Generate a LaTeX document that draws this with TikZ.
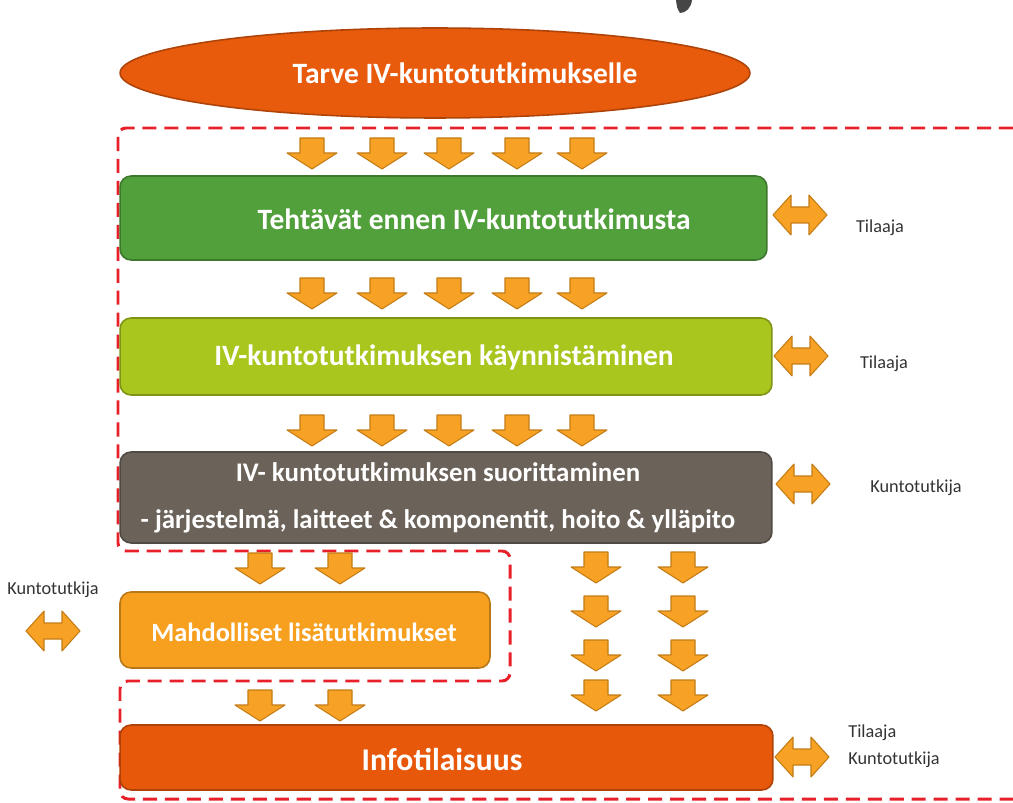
\documentclass[tikz,border=0pt]{standalone}
\usepackage{fontspec}
\setmainfont{Carlito}
\usetikzlibrary{shapes.geometric}
\definecolor{arrfill}{HTML}{F7A224}
\definecolor{arredge}{HTML}{C47C16}
\definecolor{needc}{HTML}{E85A0C}
\definecolor{greenc}{HTML}{52A03C}
\definecolor{limec}{HTML}{A8C61E}
\definecolor{grayc}{HTML}{6B625A}
\definecolor{orangec}{HTML}{F7A020}
\definecolor{infoc}{HTML}{E8580A}
\definecolor{dashc}{HTML}{E8202A}
\definecolor{labelc}{HTML}{333333}
\begin{document}
\begin{tikzpicture}[x=0.02cm,y=-0.02cm,
  stagebox/.style={draw=#1!75!black, line width=0.9pt, fill=#1, rounded corners=0.22cm,
    inner sep=0pt},
  stagetext/.style={text=white, font=\bfseries\fontsize{16.8}{21}\selectfont, align=center},
  sidelabel/.style={text=labelc, font=\fontsize{10.4}{13}\selectfont, inner sep=0pt},
  scopeline/.style={draw=dashc, line width=1.7pt, dash pattern=on 8pt off 4.5pt, rounded corners=0.16cm},
  pics/downarr/.style={code={
    \filldraw[fill=arrfill, draw=arredge, line width=0.6pt, line join=round]
      (-12,0) -- (12,0) -- (12,15) -- (25,15) -- (0,31) -- (-25,15) -- (-12,15) -- cycle;}},
  pics/botharr/.style={code={
    \filldraw[fill=arrfill, draw=arredge, line width=0.6pt, line join=round]
      (-27,0) -- (-9,-20) -- (-9,-8) -- (9,-8) -- (9,-20) -- (27,0) -- (9,20) -- (9,8)
      -- (-9,8) -- (-9,20) -- cycle;}}
]
\useasboundingbox (0,0) rectangle (1013,803);

% scope boundaries
\draw[scopeline] (1013,128) -- (118,128) -- (118,551) -- (510,551) -- (510,681) -- (120,681)
  -- (120,799) -- (1013,799);

% clipped mark at the top edge
\fill[gray!55!black] (676,0) -- (692,0) .. controls (691,8) and (686,13) .. (680,13)
  .. controls (677,8) .. cycle;

% stages
\node[ellipse, draw=needc!75!black, line width=0.9pt, fill=needc, minimum width=12.6cm,
  minimum height=1.8cm, inner sep=0pt] (need) at (435,73) {};
\node[stagetext] (needt) at (465,73) {Tarve IV-kuntotutkimukselle};

\node[stagebox=greenc, minimum width=12.94cm, minimum height=1.68cm] (pre) at (443.5,218) {};
\node[stagetext] (pret) at (474,219) {Tehtävät ennen IV-kuntotutkimusta};

\node[stagebox=limec, minimum width=13.04cm, minimum height=1.54cm] (start) at (446,356.5) {};
\node[stagetext] (startt) at (444,357) {IV-kuntotutkimuksen käynnistäminen};

\node[stagebox=grayc, minimum width=13.04cm, minimum height=1.82cm] (exec) at (446,497.5) {};
\node[stagetext, font=\bfseries\fontsize{15.3}{27}\selectfont] (exect) at (438,498)
  {IV- kuntotutkimuksen suorittaminen\\- järjestelmä, laitteet \& komponentit, hoito \& ylläpito};

\node[stagebox=orangec, minimum width=7.4cm, minimum height=1.52cm] (extra) at (305,630) {};
\node[stagetext, font=\bfseries\fontsize{15}{18}\selectfont] (extrat) at (304,632)
  {Mahdolliset lisätutkimukset};

\node[stagebox=infoc, minimum width=13.06cm, minimum height=1.3cm] (info) at (446.5,757.5) {};
\node[stagetext, font=\bfseries\fontsize{18}{22}\selectfont] (infot) at (442,759) {Infotilaisuus};

% flow arrows
\foreach \x in {312,382,449,517,582} {
  \pic at (\x,138) {downarr};
  \pic at (\x,278) {downarr};
  \pic at (\x,415) {downarr};
}
\foreach \x in {260,340} {
  \pic at (\x,553) {downarr};
  \pic at (\x,690) {downarr};
}
\foreach \y in {552,596,640,680} {
  \pic at (596,\y) {downarr};
  \pic at (683,\y) {downarr};
}

% parties involved
\pic at (800,215) {botharr};
\node[sidelabel] (l1) at (880,228) {Tilaaja};
\pic at (801,356) {botharr};
\node[sidelabel] (l2) at (884,364) {Tilaaja};
\pic at (803,484) {botharr};
\node[sidelabel] (l3) at (916,488) {Kuntotutkija};
\pic at (53,631) {botharr};
\node[sidelabel] (l4) at (53,590) {Kuntotutkija};
\pic at (802,757) {botharr};
\node[sidelabel, anchor=west] (l5) at (848,733) {Tilaaja};
\node[sidelabel, anchor=west] (l6) at (848,760) {Kuntotutkija};
\end{tikzpicture}
\end{document}
